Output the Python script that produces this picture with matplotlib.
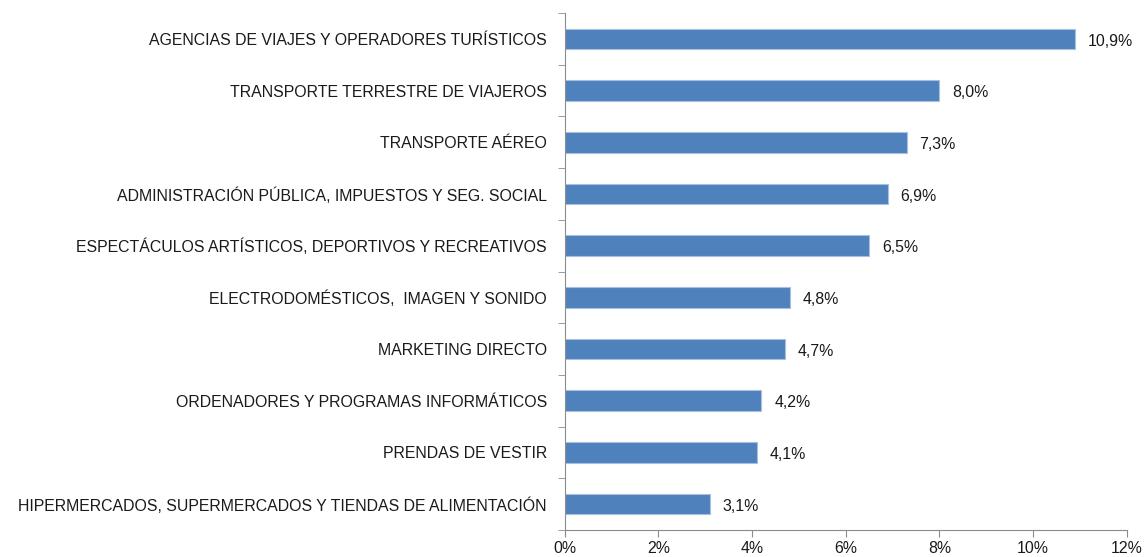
import matplotlib.pyplot as plt
import numpy as np

categories = [
    "AGENCIAS DE VIAJES Y OPERADORES TURÍSTICOS",
    "TRANSPORTE TERRESTRE DE VIAJEROS",
    "TRANSPORTE AÉREO",
    "ADMINISTRACIÓN PÚBLICA, IMPUESTOS Y SEG. SOCIAL",
    "ESPECTÁCULOS ARTÍSTICOS, DEPORTIVOS Y RECREATIVOS",
    "ELECTRODOMÉSTICOS,  IMAGEN Y SONIDO",
    "MARKETING DIRECTO",
    "ORDENADORES Y PROGRAMAS INFORMÁTICOS",
    "PRENDAS DE VESTIR",
    "HIPERMERCADOS, SUPERMERCADOS Y TIENDAS DE ALIMENTACIÓN",
]
values = [10.9, 8.0, 7.3, 6.9, 6.5, 4.8, 4.7, 4.2, 4.1, 3.1]

plt.rcParams["font.family"] = ["Liberation Sans", "DejaVu Sans"]
fs = 11.45

fig = plt.figure(figsize=(11.48, 5.57), dpi=100)
ax = fig.add_axes([0.492, 0.0485, 0.4895, 0.928])

y = np.arange(len(categories))[::-1]
ax.barh(y, values, height=0.4, color="#4F81BD", edgecolor="#A7C0E0", linewidth=0.8)

for yi, v in zip(y, values):
    ax.text(v + 0.27, yi - 0.04, f"{v:.1f}%".replace(".", ","), va="center", ha="left",
            fontsize=fs, color="#1a1a1a")

ax.set_xlim(0, 12)
ax.set_ylim(-0.5, len(categories) - 0.5)
ax.set_xticks(np.arange(0, 13, 2))
ax.set_xticklabels([f"{t}%" for t in range(0, 13, 2)], fontsize=fs, color="#1a1a1a")

ax.set_yticks(y)
ax.set_yticklabels(categories, fontsize=fs, color="#1a1a1a")
ax.tick_params(axis="y", length=0, pad=13)
ax.set_yticks(np.arange(-0.5, len(categories), 1), minor=True)
ax.tick_params(axis="y", which="minor", length=5, color="#8C8C8C")
ax.tick_params(axis="x", length=5, color="#8C8C8C", direction="out", pad=3)

for s in ["top", "right"]:
    ax.spines[s].set_visible(False)
ax.spines["left"].set_color("#8C8C8C")
ax.spines["bottom"].set_color("#8C8C8C")

fig.savefig("out.png", dpi=100)
